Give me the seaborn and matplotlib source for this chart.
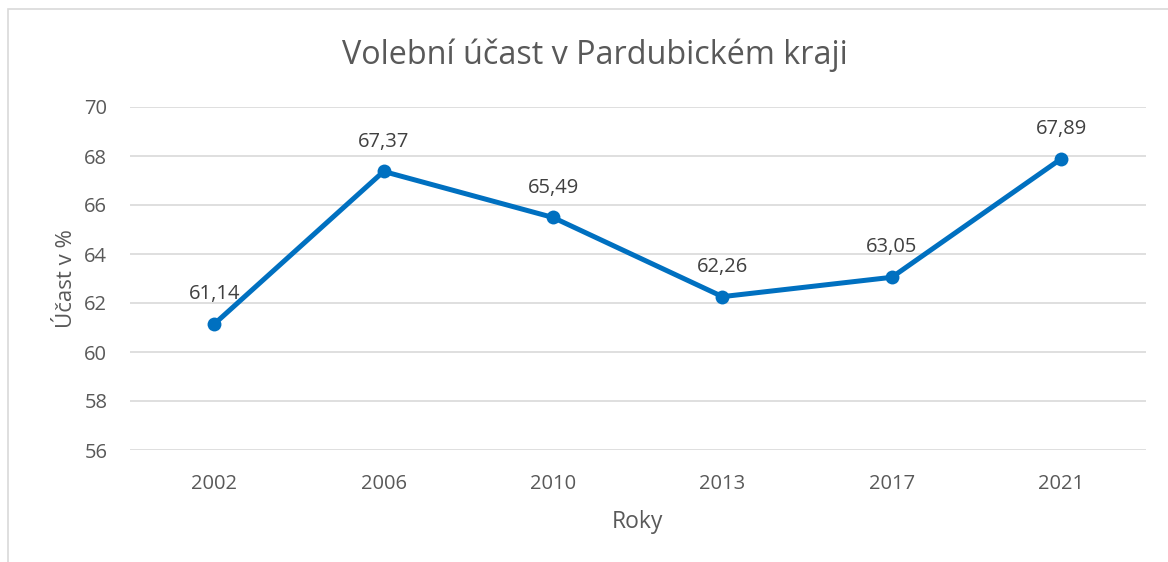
import matplotlib
matplotlib.use("Agg")
import matplotlib.pyplot as plt
import seaborn as sns
import pandas as pd
from matplotlib.patches import Rectangle

years = ["2002", "2006", "2010", "2013", "2017", "2021"]
turnout = [61.14, 67.37, 65.49, 62.26, 63.05, 67.89]
yticks = [56, 58, 60, 62, 64, 66, 68, 70]

sns.set_theme(style="white")
plt.rcParams['font.family'] = ['Open Sans', 'DejaVu Sans']

df = pd.DataFrame({"Roky": years, "Účast": turnout})

fig = plt.figure(figsize=(11.68, 5.62), dpi=100)
ax = fig.add_axes([129.5/1168, 1-450/562, (1146-129.5)/1168, (450-107)/562])

grey = "#595959"
line_c = "#0070C0"

sns.lineplot(data=df, x="Roky", y="Účast", ax=ax, color=line_c, linewidth=3.6,
             marker="o", markersize=10, markeredgewidth=0, sort=False, zorder=3)

ax.set_ylim(56, 70)
ax.set_yticks(yticks)
ax.set_xlim(-0.5, len(years) - 0.5)
ax.grid(axis="y", color="#D9D9D9", linewidth=1.2)
ax.set_axisbelow(True)
for s in ax.spines.values():
    s.set_visible(False)
ax.tick_params(axis="both", length=0, labelsize=14.5, labelcolor=grey)
ax.tick_params(axis="y", pad=16)
ax.tick_params(axis="x", pad=17)

for i, v in enumerate(turnout):
    ax.annotate(f"{v:.2f}".replace(".", ","), (i, v), xytext=(0, 21.5),
                textcoords="offset points", ha="center", va="center",
                fontsize=14.5, color="#404040")

ax.set_xlabel("Roky", fontsize=16.5, color=grey, labelpad=12)
ax.set_ylabel("Účast v %", fontsize=16, color=grey, labelpad=5)

fig.suptitle("Volební účast v Pardubickém kraji", x=595/1168, y=1-55/562, va="center",
             fontsize=23.3, color=grey)

fig.patches.append(Rectangle((8/1168, -0.1), 1.2, 1.1 - 9/562, transform=fig.transFigure,
                             fill=False, edgecolor="#D9D9D9", linewidth=1.2))

fig.savefig("out.png", dpi=100)
